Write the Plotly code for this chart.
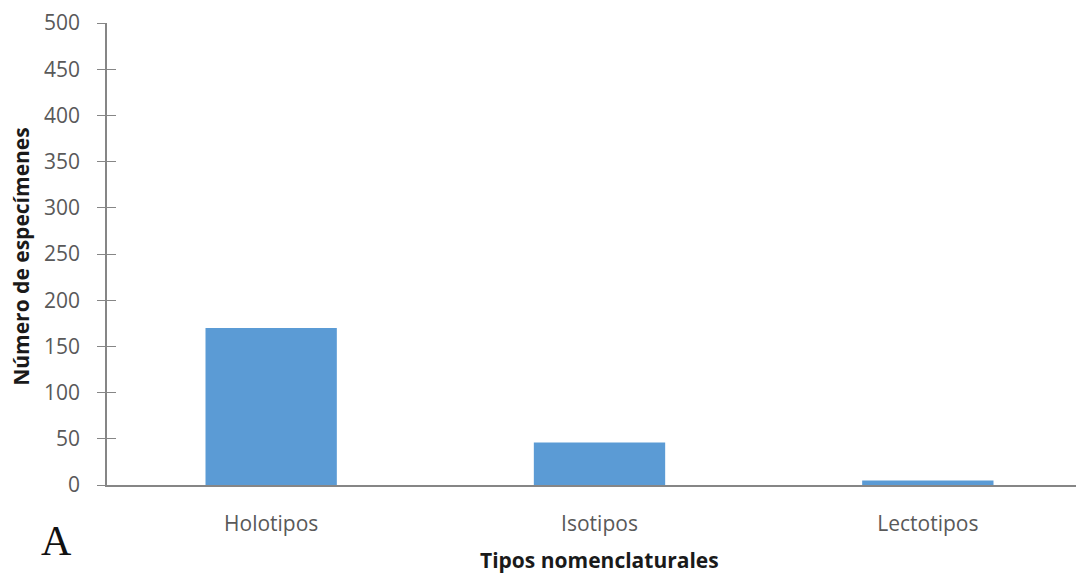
import plotly.graph_objects as go

categories = ["Holotipos", "Isotipos", "Lectotipos"]
values = [170, 46, 5]
y_ticks = [0, 50, 100, 150, 200, 250, 300, 350, 400, 450, 500]

fig = go.Figure()
fig.add_trace(go.Bar(x=categories, y=values, marker=dict(color="#5B9BD5", line=dict(width=0)),
                     width=0.4, showlegend=False))
# invisible trace for inside tick overlay axis
fig.add_trace(go.Scatter(x=categories, y=values, yaxis="y2", mode="markers",
                         marker=dict(opacity=0), showlegend=False, hoverinfo="skip"))

axis_gray = "#868686"
fig.update_layout(
    width=1084, height=566,
    margin=dict(l=99, r=0, t=15, b=89),
    paper_bgcolor="white", plot_bgcolor="white",
    font=dict(family="Open Sans", color="#595959", size=21),
    xaxis=dict(range=[-0.5, 2.5], showline=True, linecolor=axis_gray, linewidth=1.5,
               ticks="", showgrid=False, ticklabelstandoff=19, automargin=False,
               tickfont=dict(size=21, color="#595959")),
    yaxis=dict(range=[0, 500], tickvals=y_ticks, showline=True, linecolor=axis_gray,
               linewidth=1.5, ticks="outside", ticklen=8, tickcolor=axis_gray,
               showgrid=False, zeroline=False, ticklabelstandoff=13, automargin=False,
               tickfont=dict(size=21, color="#595959")),
    yaxis2=dict(range=[0, 500], tickvals=y_ticks, overlaying="y", side="left",
                ticks="inside", ticklen=9, tickcolor=axis_gray, tickwidth=1.2,
                showticklabels=False, showline=False, showgrid=False, zeroline=False),
    annotations=[
        dict(text="<b>Número de especímenes</b>", xref="paper", yref="paper",
             x=-0.0873, y=0.494, xanchor="center", yanchor="middle", textangle=-90,
             showarrow=False, font=dict(size=21, color="#1a1a1a", family="Open Sans")),
        dict(text="<b>Tipos nomenclaturales</b>", xref="paper", yref="paper",
             x=0.5005, y=-0.163, xanchor="center", yanchor="middle",
             showarrow=False, font=dict(size=21, color="#1a1a1a", family="Open Sans")),
        dict(text="A", xref="paper", yref="paper", x=-0.0508, y=-0.122,
             xanchor="center", yanchor="middle", showarrow=False,
             font=dict(size=42, color="#111111", family="Liberation Serif")),
    ],
)
fig.write_html("out.html")
